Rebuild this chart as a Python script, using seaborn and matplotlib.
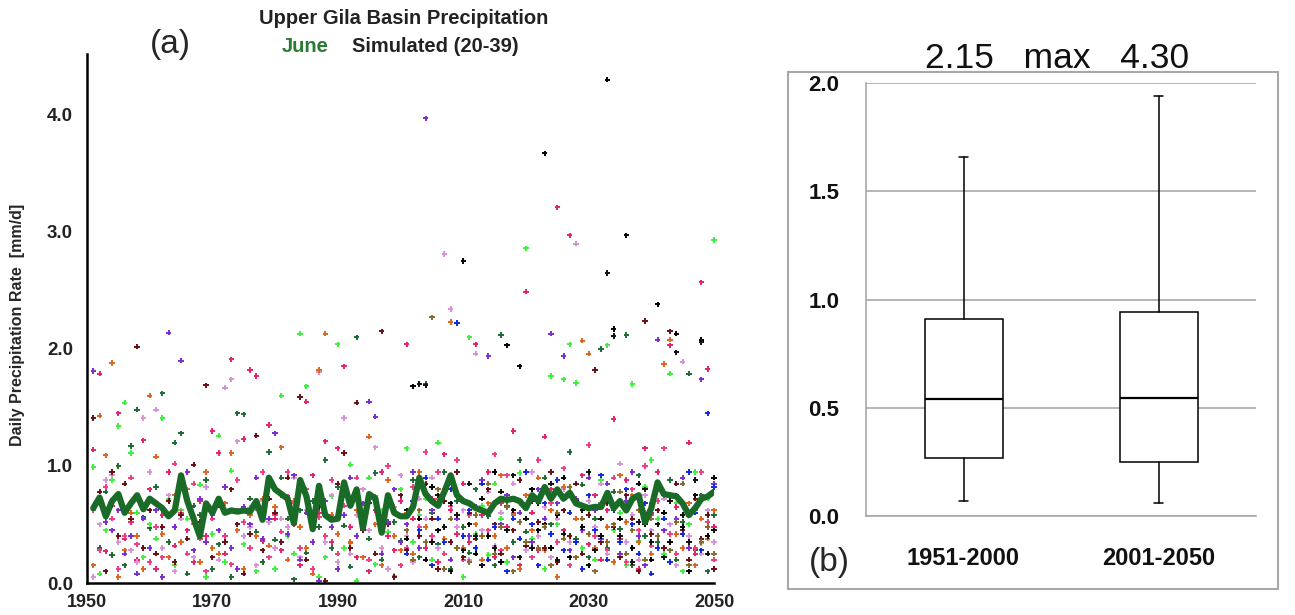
import numpy as np
import pandas as pd
import matplotlib
matplotlib.use("Agg")
import matplotlib.pyplot as plt
from matplotlib.patches import Rectangle
from matplotlib.ticker import MultipleLocator
from matplotlib import font_manager
import seaborn as sns

# ---------------- data ----------------
YEARS = list(range(1951, 2051))
YEARS_LATE = list(range(2001, 2051))

ENSEMBLE_MEAN = [
    0.64, 0.73, 0.57, 0.70, 0.76, 0.60, 0.68, 0.75, 0.63, 0.72,
    0.68, 0.64, 0.57, 0.62, 0.92, 0.70, 0.55, 0.40, 0.68, 0.60,
    0.72, 0.60, 0.62, 0.61, 0.62, 0.61, 0.70, 0.54, 0.90, 0.80,
    0.76, 0.72, 0.51, 0.88, 0.74, 0.46, 0.83, 0.58, 0.54, 0.55,
    0.86, 0.66, 0.80, 0.47, 0.76, 0.72, 0.43, 0.75, 0.60, 0.57,
    0.57, 0.65, 0.90, 0.76, 0.70, 0.66, 0.78, 0.92, 0.75, 0.70,
    0.68, 0.64, 0.62, 0.60, 0.68, 0.72, 0.71, 0.72, 0.70, 0.64,
    0.75, 0.70, 0.82, 0.72, 0.80, 0.72, 0.77, 0.68, 0.66, 0.64,
    0.65, 0.65, 0.77, 0.64, 0.70, 0.62, 0.72, 0.75, 0.52, 0.64,
    0.86, 0.76, 0.75, 0.74, 0.68, 0.58, 0.64, 0.72, 0.74, 0.78,
]

RUN_DKGREEN = [
    0.62, 0.30, 0.78, 0.24, 1.00, 0.15, 1.17, 1.48, 0.56, 0.47,
    0.82, 1.62, 0.35, 1.20, 1.28, 0.08, 0.66, 0.58, 0.88, 0.12,
    0.33, 0.40, 0.05, 1.45, 1.44, 0.72, 0.44, 0.18, 1.12, 0.37,
    0.90, 0.55, 0.03, 0.62, 0.26, 0.70, 0.48, 1.05, 0.30, 0.82,
    0.49, 0.14, 2.10, 0.60, 0.38, 0.94, 0.20, 0.75, 0.52, 0.36,
    0.45, 0.88, 0.22, 1.70, 0.60, 0.33, 0.95, 0.12, 0.70, 0.48,
    0.26, 0.80, 0.40, 0.57, 0.15, 2.12, 0.66, 0.35, 1.05, 0.44,
    0.73, 0.28, 0.90, 0.50, 0.18, 0.62, 1.12, 0.38, 0.84, 0.22,
    0.55, 2.00, 0.30, 0.78, 0.46, 2.12, 0.15, 0.92, 0.40, 0.68,
    0.35, 0.60, 0.88, 0.20, 0.52, 1.79, 0.28, 0.75, 0.10, 0.58,
]
RUN_GREEN = [
    0.99, 0.08, 0.45, 0.88, 1.34, 1.54, 1.11, 0.60, 0.22, 0.50,
    0.38, 1.41, 0.72, 0.15, 0.62, 0.55, 0.28, 0.84, 0.05, 0.42,
    1.26, 0.18, 0.96, 0.50, 0.33, 0.64, 0.10, 0.58, 0.85, 0.12,
    1.60, 0.40, 0.25, 2.13, 1.68, 0.52, 0.05, 0.22, 0.74, 2.04,
    0.30, 1.01, 0.02, 0.55, 0.90, 0.16, 0.62, 0.44, 0.06, 0.80,
    1.15, 0.35, 0.58, 0.72, 0.20, 1.20, 0.48, 0.90, 0.30, 0.05,
    2.10, 0.42, 0.66, 0.24, 0.85, 0.55, 0.18, 0.60, 0.94, 2.86,
    0.38, 0.70, 0.12, 1.77, 0.50, 1.74, 2.04, 1.71, 0.30, 0.62,
    0.20, 0.88, 2.03, 0.45, 0.60, 0.15, 1.70, 0.36, 0.82, 1.05,
    0.55, 0.25, 1.79, 0.68, 0.10, 0.50, 0.95, 0.34, 0.72, 2.93,
]
RUN_PINK = [
    1.14, 1.79, 0.27, 0.66, 1.45, 0.38, 0.52, 0.20, 1.22, 0.80,
    0.12, 0.58, 0.95, 0.32, 0.84, 0.45, 0.18, 0.70, 0.40, 1.30,
    1.11, 0.25, 1.91, 0.62, 1.23, 1.82, 1.77, 0.36, 1.35, 0.55,
    0.28, 0.74, 0.50, 0.15, 1.55, 0.92, 0.60, 1.21, 0.35, 1.15,
    1.85, 0.48, 0.22, 0.80, 0.10, 0.62, 0.95, 0.40, 0.28, 0.70,
    2.04, 0.55, 0.90, 0.30, 0.72, 0.18, 1.10, 0.62, 0.42, 0.85,
    0.35, 2.04, 0.58, 0.95, 0.22, 0.68, 0.48, 1.30, 0.15, 2.49,
    0.60, 0.28, 1.25, 0.80, 3.21, 0.45, 2.97, 0.55, 0.92, 0.33,
    0.75, 0.20, 0.62, 1.40, 0.38, 0.88, 0.50, 0.12, 1.15, 0.58,
    0.95, 0.30, 2.03, 0.65, 0.42, 1.20, 0.25, 2.57, 1.83, 0.48,
]
RUN_ROSE = [
    0.62, 0.28, 0.82, 0.55, 0.12, 0.40, 0.90, 0.33, 0.65, 0.18,
    0.48, 0.22, 0.70, 1.02, 0.60, 0.25, 0.85, 0.38, 0.10, 0.55,
    0.72, 0.40, 0.16, 0.88, 0.52, 0.30, 0.64, 0.95, 0.22, 0.58,
    0.44, 0.95, 0.68, 0.30, 0.80, 0.12, 0.56, 0.40, 0.88, 0.25,
    0.66, 0.34, 0.90, 0.50, 0.20, 0.74, 0.45, 1.00, 0.60, 0.15,
    0.30, 0.82, 0.48, 1.12, 0.40, 0.95, 0.25, 0.66, 1.05, 0.20,
    0.58, 0.30, 0.85, 0.45, 1.10, 0.28, 0.92, 0.60, 0.38, 0.75,
    0.22, 1.05, 0.50, 0.68, 0.35, 0.98, 0.15, 0.72, 0.45, 1.18,
    0.40, 0.65, 0.28, 0.90, 0.55, 0.18, 0.80, 0.45, 1.00, 0.32,
    0.70, 1.15, 0.42, 0.25, 0.85, 0.60, 0.30, 0.95, 0.52, 0.20,
]
RUN_VIOLET = [
    0.05, 0.50, 0.88, 0.92, 0.35, 0.60, 0.28, 0.18, 1.41, 0.95,
    1.48, 0.30, 0.75, 0.10, 0.55, 0.68, 0.22, 0.45, 0.82, 0.60,
    0.20, 1.67, 1.74, 1.21, 0.40, 0.48, 0.15, 0.70, 0.52, 0.30,
    0.55, 0.48, 0.90, 0.22, 0.62, 0.08, 1.80, 0.35, 0.75, 0.18,
    1.41, 0.25, 0.58, 0.80, 0.45, 1.16, 0.30, 0.12, 0.65, 0.92,
    0.40, 0.18, 0.72, 0.55, 0.90, 0.30, 2.81, 2.34, 0.48, 0.62,
    0.20, 1.96, 0.45, 0.78, 0.32, 0.60, 0.10, 0.85, 0.52, 0.28,
    0.95, 0.40, 0.65, 0.22, 0.55, 0.80, 0.35, 2.90, 0.12, 0.70,
    0.48, 0.85, 0.25, 0.62, 1.02, 0.35, 0.58, 0.20, 0.75, 0.45,
    0.30, 0.72, 0.50, 0.15, 1.89, 0.40, 0.88, 0.25, 0.62, 0.35,
]
RUN_ORANGE = [
    0.15, 1.43, 1.09, 1.88, 0.05, 0.28, 0.60, 0.40, 0.12, 1.60,
    1.08, 0.42, 0.22, 0.75, 0.35, 0.80, 0.50, 0.18, 0.95, 0.30,
    0.25, 0.68, 1.11, 0.45, 0.12, 0.58, 0.40, 0.72, 0.32, 0.65,
    1.16, 0.20, 0.70, 0.48, 0.30, 0.08, 1.82, 2.13, 0.58, 0.42,
    0.75, 0.35, 0.62, 0.22, 1.25, 0.50, 0.15, 0.88, 0.40, 0.28,
    0.60, 0.25, 0.95, 0.48, 0.15, 0.72, 0.38, 2.23, 0.55, 0.30,
    0.85, 0.50, 0.20, 0.68, 0.40, 0.92, 0.30, 0.58, 0.12, 0.75,
    0.45, 0.90, 0.28, 0.62, 0.05, 0.82, 0.40, 0.55, 2.07, 1.96,
    0.30, 0.65, 0.48, 0.18, 0.92, 0.52, 0.75, 0.35, 0.60, 0.25,
    0.80, 1.87, 2.08, 0.42, 0.30, 0.68, 0.15, 0.55, 0.38, 0.62,
]
RUN_MAROON = [
    1.41, 0.78, 0.10, 0.95, 0.40, 0.85, 0.55, 2.02, 0.30, 0.62,
    0.25, 0.48, 0.70, 0.18, 0.58, 0.38, 1.01, 0.52, 1.69, 0.22,
    0.66, 0.35, 0.80, 0.50, 0.08, 0.42, 1.26, 0.28, 0.72, 0.60,
    0.35, 0.90, 0.58, 1.59, 0.20, 0.46, 0.65, 0.02, 0.55, 0.85,
    1.11, 0.30, 1.54, 0.45, 0.68, 0.25, 2.15, 0.50, 0.05, 0.75,
    0.28, 0.65, 0.40, 0.85, 0.55, 0.12, 0.70, 0.35, 0.95, 0.22,
    0.60, 0.38, 0.15, 0.80, 0.50, 0.25, 0.72, 0.45, 0.88, 0.32,
    0.70, 0.52, 0.30, 0.95, 0.18, 0.62, 0.40, 0.85, 0.25, 0.58,
    1.82, 0.35, 0.68, 0.48, 0.22, 0.75, 0.55, 0.10, 2.24, 0.42,
    0.62, 0.30, 2.15, 0.85, 0.45, 0.20, 0.72, 0.38, 0.58, 0.12,
]
RUN_PURPLE = [
    1.81, 0.70, 0.52, 0.45, 0.62, 0.25, 0.40, 0.08, 0.55, 0.30,
    0.62, 0.05, 2.14, 0.48, 1.90, 0.95, 0.28, 0.72, 0.35, 0.58,
    0.45, 0.82, 0.30, 0.12, 0.65, 0.50, 0.90, 0.38, 0.55, 1.28,
    0.75, 0.42, 0.92, 0.20, 0.60, 0.35, 0.02, 0.70, 0.48, 0.12,
    0.58, 0.90, 0.40, 0.68, 1.55, 1.42, 0.25, 0.52, 0.80, 0.35,
    0.50, 0.95, 0.30, 3.97, 0.62, 0.45, 0.80, 0.20, 0.55, 0.70,
    0.40, 0.65, 0.88, 1.94, 0.30, 0.50, 0.75, 0.22, 0.60, 0.95,
    0.35, 0.80, 0.55, 2.13, 0.68, 1.94, 0.28, 0.72, 0.45, 0.90,
    0.62, 0.38, 0.85, 0.50, 0.25, 0.70, 0.95, 0.40, 0.15, 0.60,
    2.08, 0.45, 0.75, 0.55, 0.90, 0.30, 0.65, 1.74, 0.48, 0.85,
]
# runs plotted only for 2001-2050
RUN_BLACK_A = [
    0.38, 1.68, 0.55, 0.20, 0.82, 0.45, 0.12, 0.68, 0.30, 2.75,
    0.50, 0.25, 0.72, 0.40, 0.95, 0.18, 2.03, 0.62, 1.85, 0.35,
    0.80, 0.45, 3.67, 0.30, 0.58, 0.90, 0.22, 0.70, 0.48, 0.15,
    0.65, 0.40, 4.30, 2.17, 0.55, 2.97, 0.30, 0.85, 0.50, 0.20,
    2.38, 0.60, 0.35, 2.13, 0.48, 0.10, 0.75, 2.08, 0.40, 0.90,
]
RUN_BLACK_B = [
    0.62, 0.20, 1.70, 1.69, 0.35, 0.75, 0.48, 0.10, 0.58, 0.28,
    0.85, 0.40, 0.15, 0.60, 0.30, 0.78, 0.45, 0.92, 0.22, 0.55,
    0.30, 0.68, 0.50, 0.85, 0.20, 0.42, 0.75, 0.35, 0.62, 0.95,
    0.28, 0.55, 2.65, 2.11, 0.40, 0.65, 0.18, 0.52, 0.80, 0.35,
    0.50, 0.22, 0.70, 1.97, 0.58, 0.35, 0.88, 2.06, 0.25, 0.45,
]
RUN_BLUE = [
    0.25, 0.70, 0.45, 0.90, 0.15, 0.55, 0.35, 0.80, 2.22, 0.40,
    0.62, 0.30, 0.85, 0.20, 0.48, 0.72, 0.10, 0.55, 0.38, 0.95,
    0.50, 0.15, 0.68, 0.42, 0.88, 0.28, 0.60, 0.35, 0.12, 0.75,
    0.45, 0.92, 0.20, 0.62, 0.35, 0.80, 0.50, 0.25, 0.68, 0.08,
    0.30, 0.55, 0.18, 0.75, 0.42, 0.95, 0.60, 0.28, 1.45, 0.82,
]
RUN_OLIVE = [
    0.45, 0.20, 0.62, 0.35, 2.27, 0.80, 0.12, 0.55, 0.30, 0.70,
    0.18, 0.58, 0.40, 0.85, 0.25, 0.48, 0.65, 0.10, 0.52, 0.35,
    0.72, 0.30, 0.48, 0.15, 0.60, 0.38, 0.82, 0.22, 0.55, 0.42,
    0.10, 0.68, 0.35, 0.50, 0.78, 0.25, 0.45, 0.62, 0.20, 0.55,
    0.40, 0.75, 0.28, 0.52, 0.85, 0.15, 0.62, 0.35, 0.48, 0.25,
]

RUNS = {
    "dkgreen": (YEARS, RUN_DKGREEN),
    "green": (YEARS, RUN_GREEN),
    "pink": (YEARS, RUN_PINK),
    "rose": (YEARS, RUN_ROSE),
    "violet": (YEARS, RUN_VIOLET),
    "orange": (YEARS, RUN_ORANGE),
    "maroon": (YEARS, RUN_MAROON),
    "purple": (YEARS, RUN_PURPLE),
    "black_a": (YEARS_LATE, RUN_BLACK_A),
    "black_b": (YEARS_LATE, RUN_BLACK_B),
    "blue": (YEARS_LATE, RUN_BLUE),
    "olive": (YEARS_LATE, RUN_OLIVE),
}
RUN_COLORS = {
    "dkgreen": "#1f6a35", "green": "#3cf03c", "pink": "#e8226a",
    "rose": "#f03c82", "violet": "#d892dc", "orange": "#e0641e",
    "maroon": "#6a0e16", "purple": "#7a2ed2", "black_a": "#000000",
    "black_b": "#111111", "blue": "#1428e0", "olive": "#8a6a2c",
}

BOX_LABELS = ["1951-2000", "2001-2050"]
BOX_WHISLO = [0.07, 0.06]
BOX_Q1 = [0.27, 0.25]
BOX_MED = [0.54, 0.545]
BOX_Q3 = [0.91, 0.94]
BOX_WHISHI = [1.66, 1.94]
PERIOD_MAX = [2.15, 4.30]

# ---------------- fonts ----------------
sns.set_style("white")
names = {f.name for f in font_manager.fontManager.ttflist}
SANS = "Liberation Sans" if "Liberation Sans" in names else "DejaVu Sans"
NARROW = "Liberation Sans Narrow" if "Liberation Sans Narrow" in names else SANS
plt.rcParams["font.family"] = [SANS, "DejaVu Sans"]

# ---------------- figure ----------------
W, H = 1295, 615
fig = plt.figure(figsize=(W / 100, H / 100), dpi=100)
fig.patch.set_facecolor("white")


def fx(px):
    return px / W


def fy(py):
    return 1 - py / H


# ---- panel (a) ----
ax1 = fig.add_axes([fx(87), fy(583), fx(714) - fx(87), fy(54) - fy(583)])
rows = []
for name, (yrs, vals) in RUNS.items():
    for yr, v in zip(yrs, vals):
        rows.append((yr, v, name))
df = pd.DataFrame(rows, columns=["year", "precip", "run"])

sns.scatterplot(data=df, x="year", y="precip", hue="run", palette=RUN_COLORS,
                marker="+", s=15, linewidth=1.4, legend=False, ax=ax1,
                clip_on=False, zorder=2)
sns.lineplot(x=YEARS, y=ENSEMBLE_MEAN, color="#1a6b28", linewidth=4.5,
             ax=ax1, zorder=3)

ax1.set_xlim(1950, 2050)
ax1.set_ylim(0, 4.52)
ax1.set_xticks(range(1950, 2051, 20))
ax1.xaxis.set_minor_locator(MultipleLocator(5))
ax1.set_yticks([0, 1, 2, 3, 4])
ax1.set_yticklabels([f"{t:.1f}" for t in [0, 1, 2, 3, 4]])
ax1.tick_params(axis="x", which="major", direction="in", length=8, width=1.6,
                pad=8, labelsize=13)
ax1.tick_params(axis="x", which="minor", direction="in", length=4, width=1.4)
ax1.tick_params(axis="y", which="major", direction="out", length=8, width=1.6,
                pad=2, labelsize=13.5)
for lab in ax1.get_xticklabels() + ax1.get_yticklabels():
    lab.set_fontweight("bold")
    lab.set_color("#222222")
for s in ["top", "right"]:
    ax1.spines[s].set_visible(False)
for s in ["left", "bottom"]:
    ax1.spines[s].set_linewidth(1.8)
    ax1.spines[s].set_color("black")
ax1.set_xlabel("")
ax1.set_ylabel("")
ax1.set_facecolor("white")

fig.text(fx(18), fy(325), "Daily Precipitation Rate  [mm/d]", rotation=90,
         ha="center", va="center", fontsize=11.5, fontweight="bold",
         family=[NARROW, SANS])
fig.text(fx(404), fy(19), "Upper Gila Basin Precipitation", ha="center",
         va="center", fontsize=14.5, fontweight="bold", family=[NARROW, SANS],
         color="#222222")
fig.text(fx(305), fy(46), "June", ha="center", va="center", fontsize=14.5,
         fontweight="bold", family=[NARROW, SANS], color="#2a7a34")
fig.text(fx(435), fy(46), "Simulated (20-39)", ha="center", va="center",
         fontsize=14.5, fontweight="bold", family=[NARROW, SANS],
         color="#222222")
fig.text(fx(170), fy(44), "(a)", ha="center", va="center", fontsize=24)

# ---- panel (b) ----
fig.add_artist(Rectangle((fx(788), fy(589)), fx(1278) - fx(788),
                         fy(72) - fy(589), transform=fig.transFigure,
                         fill=False, edgecolor="#a8a8a8", linewidth=1.5))
ax2 = fig.add_axes([fx(866), fy(516), fx(1256) - fx(866), fy(83) - fy(516)])
stats = []
for i in range(2):
    stats.append(dict(label=BOX_LABELS[i], whislo=BOX_WHISLO[i], q1=BOX_Q1[i],
                      med=BOX_MED[i], q3=BOX_Q3[i], whishi=BOX_WHISHI[i],
                      fliers=[]))
ax2.bxp(stats, positions=[0, 1], widths=0.4, capwidths=0.05,
        showfliers=False, patch_artist=True, manage_ticks=False,
        boxprops=dict(facecolor="white", edgecolor="black", linewidth=1.1),
        medianprops=dict(color="black", linewidth=1.6),
        whiskerprops=dict(color="black", linewidth=1.1),
        capprops=dict(color="black", linewidth=1.1), zorder=3)
ax2.set_xlim(-0.5, 1.5)
ax2.set_ylim(0, 2.0)
ax2.set_yticks([0, 0.5, 1.0, 1.5, 2.0])
ax2.set_yticklabels([f"{t:.1f}" for t in [0, 0.5, 1.0, 1.5, 2.0]])
ax2.yaxis.grid(True, color="#a8a8a8", linewidth=1.2, zorder=0)
ax2.set_axisbelow(True)
ax2.set_xticks([-0.5, 0.5, 1.5])
ax2.set_xticklabels(["", "", ""])
ax2.set_xticks([0, 1], minor=True)
ax2.set_xticklabels(BOX_LABELS, minor=True)
ax2.tick_params(axis="x", which="major", direction="out", length=7, width=1.2,
                color="#a8a8a8")
ax2.tick_params(axis="x", which="minor", length=0, pad=22, labelsize=17)
ax2.tick_params(axis="y", direction="out", length=7, width=1.2,
                color="#a8a8a8", pad=12, labelsize=16)
for lab in ax2.get_yticklabels() + ax2.get_xticklabels(minor=True):
    lab.set_fontweight("bold")
    lab.set_color("#111111")
for s in ["top", "right"]:
    ax2.spines[s].set_visible(False)
for s in ["left", "bottom"]:
    ax2.spines[s].set_color("#a8a8a8")
    ax2.spines[s].set_linewidth(1.2)
ax2.set_facecolor("white")

fig.text(fx(1057), fy(58), f"{PERIOD_MAX[0]:.2f}   max   {PERIOD_MAX[1]:.2f}",
         ha="center", va="center", fontsize=25.5, color="#111111")
fig.text(fx(829), fy(562), "(b)", ha="center", va="center", fontsize=24)

fig.savefig("out.png", dpi=100, facecolor="white")
